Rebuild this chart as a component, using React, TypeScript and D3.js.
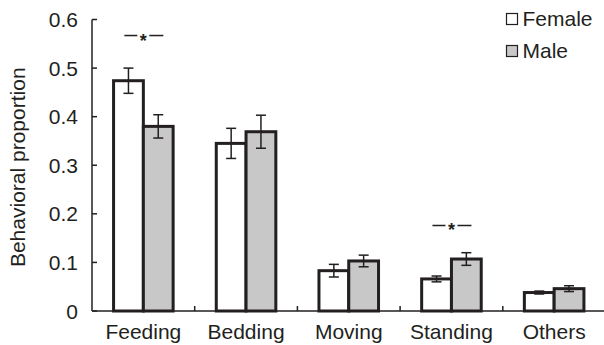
import React from "react";
import * as d3 from "d3";

const categories = ["Feeding", "Bedding", "Moving", "Standing", "Others"];
const series = ["Female", "Male"];
const femaleValues = [0.474, 0.345, 0.083, 0.066, 0.038];
const femaleErrors = [0.026, 0.031, 0.013, 0.006, 0.003];
const maleValues = [0.38, 0.369, 0.103, 0.107, 0.046];
const maleErrors = [0.024, 0.034, 0.012, 0.013, 0.006];
const yTicks = [0, 0.1, 0.2, 0.3, 0.4, 0.5, 0.6];
// significance markers: category and level where the "—*—" sits
const sigCategories = ["Feeding", "Standing"];
const sigLevels = [0.567, 0.176];

const width = 604;
const height = 345;
const ink = "#231f20";
const fills = ["#ffffff", "#c8c8c8"];
const font = "'Liberation Sans', Arial, sans-serif";
const fs = 21;

function App() {
  const x = d3
    .scaleBand()
    .domain(categories)
    .range([92, 605.5])
    .paddingInner(0.42)
    .paddingOuter(0.21);
  const xInner = d3.scaleBand().domain(series).range([0, x.bandwidth()]);
  const y = d3.scaleLinear().domain([0, 0.6]).range([311, 19.5]);

  const data = categories.map((c, i) => ({
    cat: c,
    values: [
      { s: "Female", v: femaleValues[i], e: femaleErrors[i] },
      { s: "Male", v: maleValues[i], e: maleErrors[i] },
    ],
  }));

  const step = x.step();
  const [x0, x1] = x.range();

  return (
    <svg
      width={width}
      height={height}
      style={{ position: "absolute", left: 0, top: 0 }}
      fontFamily={font}
    >
      {/* bars */}
      {data.map((d) => (
        <g key={d.cat} transform={`translate(${x(d.cat)},0)`}>
          {d.values.map((b, j) => (
            <rect
              key={b.s}
              x={xInner(b.s)}
              y={y(b.v)}
              width={xInner.bandwidth()}
              height={y(0) - y(b.v)}
              fill={fills[j]}
              stroke={ink}
              strokeWidth={3}
            />
          ))}
          {d.values.map((b) => {
            const cx = (xInner(b.s) as number) + xInner.bandwidth() / 2;
            return (
              <g key={b.s} stroke={ink} strokeWidth={1.5}>
                <line x1={cx} x2={cx} y1={y(b.v + b.e)} y2={y(b.v - b.e)} />
                <line x1={cx - 5} x2={cx + 5} y1={y(b.v + b.e)} y2={y(b.v + b.e)} />
                <line x1={cx - 5} x2={cx + 5} y1={y(b.v - b.e)} y2={y(b.v - b.e)} />
              </g>
            );
          })}
        </g>
      ))}

      {/* y axis */}
      <line x1={x0} x2={x0} y1={y(0.6)} y2={y(0)} stroke={ink} strokeWidth={1.5} />
      {yTicks.map((t) => (
        <g key={t}>
          <line x1={x0} x2={x0 + 5} y1={y(t)} y2={y(t)} stroke={ink} strokeWidth={1.5} />
          <text x={x0 - 14} y={y(t) + 7.5} textAnchor="end" fontSize={fs} fill={ink}>
            {t === 0 ? "0" : d3.format(".1f")(t)}
          </text>
        </g>
      ))}
      <text
        transform={`translate(25,${(y(0) + y(0.6)) / 2 + 2}) rotate(-90)`}
        textAnchor="middle"
        fontSize={fs}
        fill={ink}
      >
        Behavioral proportion
      </text>

      {/* x axis */}
      <line x1={x0} x2={x1} y1={y(0)} y2={y(0)} stroke={ink} strokeWidth={1.5} />
      {categories.slice(1).map((c) => {
        const tx = (x(c) as number) - step * 0.21;
        return (
          <line key={c} x1={tx} x2={tx} y1={y(0)} y2={y(0) - 5} stroke={ink} strokeWidth={1.5} />
        );
      })}
      {categories.map((c) => (
        <text
          key={c}
          x={(x(c) as number) + x.bandwidth() / 2}
          y={339}
          textAnchor="middle"
          fontSize={fs}
          fill={ink}
        >
          {c}
        </text>
      ))}

      {/* significance markers */}
      {sigCategories.map((c, i) => {
        const cx = (x(c) as number) + x.bandwidth() / 2;
        const ly = y(sigLevels[i]);
        return (
          <g key={c}>
            <line x1={cx - 19} x2={cx - 6} y1={ly} y2={ly} stroke={ink} strokeWidth={1.5} />
            <line x1={cx + 6} x2={cx + 20} y1={ly} y2={ly} stroke={ink} strokeWidth={1.5} />
            <text x={cx} y={ly + 11} textAnchor="middle" fontSize={18} fontWeight="bold" fill={ink}>
              *
            </text>
          </g>
        );
      })}

      {/* legend */}
      {series.map((s, i) => (
        <g key={s} transform={`translate(506,${13 + i * 32})`}>
          <rect x={0.5} y={0.5} width={11} height={11} fill={fills[i]} stroke={ink} strokeWidth={1.2} />
          <text x={16.5} y={12.5} fontSize={fs} fill={ink}>
            {s}
          </text>
        </g>
      ))}
    </svg>
  );
}

export default App;
